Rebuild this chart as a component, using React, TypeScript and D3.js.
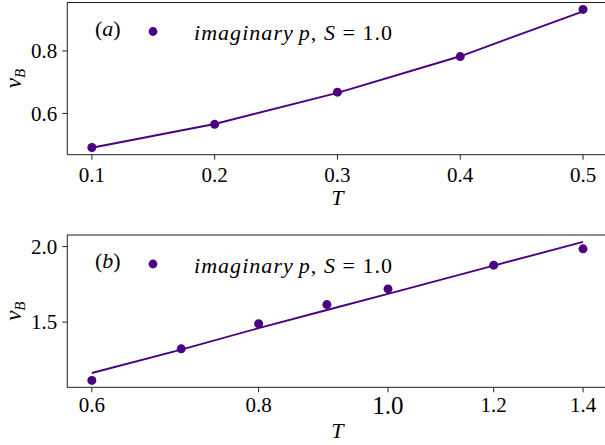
import React from 'react';
import * as d3 from 'd3';

// panel (a)
const topT = [0.1, 0.2, 0.3, 0.4, 0.5];
const topV = [0.491, 0.565, 0.668, 0.782, 0.933];
const topLineV = [0.49, 0.566, 0.666, 0.783, 0.927];
const topXTicks = [0.1, 0.2, 0.3, 0.4, 0.5];
const topYTicks = [0.6, 0.8];

// panel (b)
const botT = [0.6, 0.7, 0.8, 0.9, 1.0, 1.2, 1.4];
const botV = [1.114, 1.323, 1.489, 1.616, 1.72, 1.877, 1.985];
const botLineV = [1.163, 1.318, 1.46, 1.58, 1.687, 1.874, 2.031];
const botXTicks = [0.6, 0.8, 1.0, 1.2, 1.4];
const botYTicks = [1.5, 2.0];

const W = 605;
const H = 445;
const COLOR = '#4b0082';
const FONT = 'Liberation Serif';
const LEFT = 67.3;
const RIGHT = 607.6;

// matplotlib-like 5% padding
const pad = (lo: number, hi: number): [number, number] => {
    const m = (hi - lo) * 0.05;
    return [lo - m, hi + m];
};

const fmt = d3.format('.1f');

type PanelProps = {
    T: number[];
    V: number[];
    lineV: number[];
    xTicks: number[];
    yTicks: number[];
    log: boolean;
    top: number;
    bottom: number;
    label: string;
    tickBase: number;
    xLabelBase: number;
};

const Panel = (p: PanelProps) => {
    const all = p.V.concat(p.lineV);
    const tMin = d3.min(p.T)!;
    const tMax = d3.max(p.T)!;

    const x: any = p.log
        ? d3.scaleLog()
              .domain(pad(Math.log(tMin), Math.log(tMax)).map(Math.exp))
              .range([LEFT, RIGHT])
        : d3.scaleLinear().domain(pad(tMin, tMax)).range([LEFT, RIGHT]);
    const y = d3.scaleLinear()
        .domain(pad(d3.min(all)!, d3.max(all)!))
        .range([p.bottom, p.top]);

    const line = d3.line<number>()
        .x((d, i) => x(p.T[i]))
        .y((d) => y(d));

    const ly = p.top + 29;
    const tf = (size: number, extra: React.CSSProperties = {}): React.CSSProperties => ({
        fontFamily: FONT,
        fontSize: size,
        ...extra,
    });

    return (
        <g>
            <path d={line(p.lineV)!} fill="none" stroke={COLOR} strokeWidth={1.9} />
            {p.V.map((v, i) => (
                <circle key={i} cx={x(p.T[i])} cy={y(v)} r={4.5} fill={COLOR} />
            ))}
            <rect
                x={LEFT}
                y={p.top}
                width={RIGHT - LEFT}
                height={p.bottom - p.top}
                fill="none"
                stroke="#222"
                strokeWidth={1}
            />
            {p.xTicks.map((t) => {
                const major = p.log && t === 1.0;
                return (
                    <g key={t}>
                        <line x1={x(t)} x2={x(t)} y1={p.bottom} y2={p.bottom + 5} stroke="#222" />
                        <text
                            x={x(t)}
                            y={major ? p.tickBase + 2.4 : p.tickBase}
                            textAnchor="middle"
                            style={tf(major ? 25 : 21)}
                        >
                            {fmt(t)}
                        </text>
                    </g>
                );
            })}
            {p.yTicks.map((v) => (
                <g key={v}>
                    <line x1={LEFT - 5} x2={LEFT} y1={y(v)} y2={y(v)} stroke="#222" />
                    <text x={LEFT - 10} y={y(v)} dy="0.35em" textAnchor="end" style={tf(21)}>
                        {fmt(v)}
                    </text>
                </g>
            ))}
            <text
                x={(LEFT + RIGHT) / 2}
                y={p.xLabelBase}
                textAnchor="middle"
                style={tf(22, { fontStyle: 'italic' })}
            >
                T
            </text>
            <text
                transform={`translate(21, ${(p.top + p.bottom) / 2}) rotate(-90)`}
                textAnchor="middle"
                style={tf(23, { fontStyle: 'italic' })}
            >
                <tspan>v</tspan>
                <tspan dy={4} style={{ fontSize: 15 }}>B</tspan>
            </text>
            <text x={95} y={ly + 4} style={tf(22)}>
                <tspan>(</tspan>
                <tspan style={{ fontStyle: 'italic' }}>{p.label}</tspan>
                <tspan>)</tspan>
            </text>
            <circle cx={153} cy={ly} r={4.4} fill={COLOR} />
            <text
                x={194}
                y={ly + 8.5}
                textLength={198}
                lengthAdjust="spacing"
                style={tf(22)}
            >
                <tspan style={{ fontStyle: 'italic' }}>imaginary</tspan>
                <tspan dx={5} style={{ fontStyle: 'italic' }}>p</tspan>
                <tspan>, </tspan>
                <tspan style={{ fontStyle: 'italic' }}>S</tspan>
                <tspan> = 1.0</tspan>
            </text>
        </g>
    );
};

const App = () => (
    <svg
        width={W}
        height={H}
        style={{ position: 'absolute', left: 0, top: 0, background: '#fff' }}
    >
        <Panel
            T={topT} V={topV} lineV={topLineV}
            xTicks={topXTicks} yTicks={topYTicks}
            log={false} top={2.5} bottom={154.7} label="a"
            tickBase={181.7} xLabelBase={205}
        />
        <Panel
            T={botT} V={botV} lineV={botLineV}
            xTicks={botXTicks} yTicks={botYTicks}
            log={true} top={235} bottom={387.3} label="b"
            tickBase={411.7} xLabelBase={437.6}
        />
    </svg>
);

export default App;
